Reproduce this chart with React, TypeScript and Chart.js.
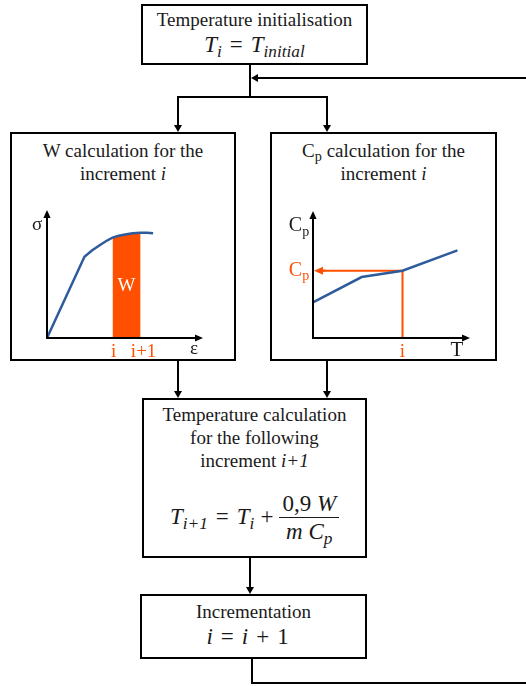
import React, { useEffect, useRef } from "react";
import { Chart, registerables } from "chart.js";

Chart.register(...registerables);

const BLUE = "#2E5B9B";
const ORANGE = "#FF5000";
const INK = "#1a1a1a";
const SERIF = '"Liberation Serif", "DejaVu Serif", serif';

// Stress–strain curve (arbitrary units 0..100)
const strain = [0, 24, 29, 34, 38, 42, 46, 51, 55, 60, 64, 68];
const stress = [0, 63.5, 68.5, 72.7, 75.8, 78.4, 79.9, 81, 81.8, 82.3, 82.3, 81.8];
const incStart = 42;
const incEnd = 60;
const strainTickLabels = ["i", "i+1"];

// Cp–T curve (arbitrary units 0..100)
const temperature = [0, 31, 57, 92];
const heatCapacity = [28, 48, 53, 69];
const tempIncrement = 57;
const tempTickLabel = "i";

function drawArrow(
  ctx: CanvasRenderingContext2D,
  x1: number, y1: number, x2: number, y2: number,
  color: string, lw: number, head: number
) {
  const a = Math.atan2(y2 - y1, x2 - x1);
  ctx.save();
  ctx.strokeStyle = color;
  ctx.fillStyle = color;
  ctx.lineWidth = lw;
  ctx.beginPath();
  ctx.moveTo(x1, y1);
  ctx.lineTo(x2 - Math.cos(a) * head * 0.7, y2 - Math.sin(a) * head * 0.7);
  ctx.stroke();
  const w = head * 0.45;
  ctx.beginPath();
  ctx.moveTo(x2, y2);
  ctx.lineTo(x2 - Math.cos(a) * head - Math.sin(a) * w, y2 - Math.sin(a) * head + Math.cos(a) * w);
  ctx.lineTo(x2 - Math.cos(a) * head + Math.sin(a) * w, y2 - Math.sin(a) * head - Math.cos(a) * w);
  ctx.closePath();
  ctx.fill();
  ctx.restore();
}

function text(ctx: CanvasRenderingContext2D, s: string, x: number, y: number, color: string, size: number, sub?: string) {
  ctx.save();
  ctx.fillStyle = color;
  ctx.textBaseline = "middle";
  ctx.font = `${size}px ${SERIF}`;
  if (sub) {
    const w1 = ctx.measureText(s).width;
    ctx.font = `${size * 0.7}px ${SERIF}`;
    const w2 = ctx.measureText(sub).width;
    const x0 = x - (w1 + w2) / 2;
    ctx.textAlign = "left";
    ctx.font = `${size}px ${SERIF}`;
    ctx.fillText(s, x0, y);
    ctx.font = `${size * 0.7}px ${SERIF}`;
    ctx.fillText(sub, x0 + w1, y + size * 0.3);
  } else {
    ctx.textAlign = "center";
    ctx.fillText(s, x, y);
  }
  ctx.restore();
}

const hiddenScales = {
  x: { type: "linear" as const, min: 0, max: 100, display: false },
  y: { type: "linear" as const, min: 0, max: 100, display: false },
};

function StressChart() {
  const ref = useRef<HTMLCanvasElement | null>(null);
  useEffect(() => {
    if (!ref.current) return;
    const curve = strain.map((x, i) => ({ x, y: stress[i] }));
    const area = curve.filter((p) => p.x >= incStart && p.x <= incEnd);
    const midY = area[Math.floor(area.length / 2)].y / 2;
    const chart = new Chart(ref.current, {
      type: "line",
      data: {
        datasets: [
          { data: curve, borderColor: BLUE, borderWidth: 2.5, pointRadius: 0, tension: 0, order: 0, clip: false } as any,
          { data: area, borderWidth: 0, borderColor: "rgba(0,0,0,0)", backgroundColor: ORANGE, fill: "origin", pointRadius: 0, order: 1, clip: false } as any,
        ],
      },
      options: {
        animation: false,
        responsive: false,
        devicePixelRatio: 1,
        layout: { padding: { left: 27, right: 12, top: 15, bottom: 22 } },
        scales: hiddenScales,
        plugins: { legend: { display: false }, tooltip: { enabled: false } },
      },
      plugins: [
        {
          id: "axes1",
          afterDatasetsDraw(c: any) {
            const ctx = c.ctx as CanvasRenderingContext2D;
            const { left, right, top, bottom } = c.chartArea;
            const xs = c.scales.x, ys = c.scales.y;
            const x0 = xs.getPixelForValue(0), y0 = ys.getPixelForValue(0);
            drawArrow(ctx, x0 - 1, y0, right, y0, "#000", 2, 8);
            drawArrow(ctx, x0, y0 + 1, x0, top, "#000", 2, 8);
            text(ctx, "σ", left - 10, top + 15, INK, 19);
            text(ctx, "ε", right - 9, bottom + 11, INK, 19);
            text(ctx, strainTickLabels[0], xs.getPixelForValue(incStart) + 1, bottom + 14, ORANGE, 19);
            text(ctx, strainTickLabels[1], xs.getPixelForValue(incEnd) + 3, bottom + 14, ORANGE, 19);
            text(ctx, "W", xs.getPixelForValue((incStart + incEnd) / 2), ys.getPixelForValue(midY), "#ffffff", 19);
          },
        },
      ],
    });
    return () => chart.destroy();
  }, []);
  return <canvas ref={ref} width={195} height={165} style={{ position: "absolute", left: 20, top: 195, width: 195, height: 165 }} />;
}

function CpChart() {
  const ref = useRef<HTMLCanvasElement | null>(null);
  useEffect(() => {
    if (!ref.current) return;
    const curve = temperature.map((x, i) => ({ x, y: heatCapacity[i] }));
    const cpAtI = heatCapacity[temperature.indexOf(tempIncrement)];
    const chart = new Chart(ref.current, {
      type: "line",
      data: {
        datasets: [
          { data: curve, borderColor: BLUE, borderWidth: 2.5, pointRadius: 0, tension: 0, order: 0, clip: false } as any,
          {
            data: [{ x: tempIncrement, y: 0 }, { x: tempIncrement, y: cpAtI }, { x: 4, y: cpAtI }],
            borderColor: ORANGE, borderWidth: 2, pointRadius: 0, tension: 0, order: 1, clip: false,
          } as any,
        ],
      },
      options: {
        animation: false,
        responsive: false,
        devicePixelRatio: 1,
        layout: { padding: { left: 33, right: 20, top: 16, bottom: 22 } },
        scales: hiddenScales,
        plugins: { legend: { display: false }, tooltip: { enabled: false } },
      },
      plugins: [
        {
          id: "axes2",
          afterDatasetsDraw(c: any) {
            const ctx = c.ctx as CanvasRenderingContext2D;
            const { left, right, top, bottom } = c.chartArea;
            const xs = c.scales.x, ys = c.scales.y;
            const x0 = xs.getPixelForValue(0), y0 = ys.getPixelForValue(0);
            const yc = ys.getPixelForValue(cpAtI);
            drawArrow(ctx, xs.getPixelForValue(8), yc, x0 + 1, yc, ORANGE, 2, 9);
            drawArrow(ctx, x0 - 1, y0, right, y0, "#000", 2, 8);
            drawArrow(ctx, x0, y0 + 1, x0, top, "#000", 2, 8);
            text(ctx, "C", left - 14, top + 15, INK, 20, "p");
            text(ctx, "C", left - 14, yc, ORANGE, 20, "p");
            text(ctx, tempTickLabel, xs.getPixelForValue(tempIncrement), bottom + 14, ORANGE, 19);
            text(ctx, "T", right - 13, bottom + 12, INK, 21);
          },
        },
      ],
    });
    return () => chart.destroy();
  }, []);
  return <canvas ref={ref} width={210} height={165} style={{ position: "absolute", left: 280, top: 195, width: 210, height: 165 }} />;
}

const subStyle: React.CSSProperties = { fontSize: "0.75em", verticalAlign: "-0.3em", lineHeight: 0 };

function Box({ x, y, w, h }: { x: number; y: number; w: number; h: number }) {
  return (
    <div style={{ position: "absolute", left: x, top: y, width: w, height: h, border: "2px solid #000", boxSizing: "border-box", background: "#fff" }} />
  );
}

function Txt({ x, w, cy, size, children, style }: { x: number; w: number; cy: number; size: number; children: any; style?: React.CSSProperties }) {
  const lh = Math.round(size * 1.3);
  return (
    <div
      style={{
        position: "absolute", left: x, width: w, top: cy - lh / 2, height: lh, lineHeight: `${lh}px`,
        fontSize: size, textAlign: "center", whiteSpace: "nowrap", color: INK, ...style,
      }}
    >
      {children}
    </div>
  );
}

function Connectors() {
  const lw = 2;
  const ah = (x: number, y: number, dir: "down" | "left") =>
    dir === "down"
      ? `${x},${y} ${x - 4},${y - 7} ${x + 4},${y - 7}`
      : `${x},${y} ${x + 7},${y - 4} ${x + 7},${y + 4}`;
  return (
    <svg width={526} height={686} style={{ position: "absolute", left: 0, top: 0, pointerEvents: "none" }}>
      <g stroke="#000" strokeWidth={lw} fill="none">
        <line x1={250} y1={65} x2={250} y2={97} />
        <line x1={177} y1={97} x2={328} y2={97} />
        <line x1={178} y1={97} x2={178} y2={126} />
        <line x1={327} y1={97} x2={327} y2={126} />
        <line x1={178} y1={361} x2={178} y2={392} />
        <line x1={327} y1={361} x2={327} y2={392} />
        <line x1={250} y1={558} x2={250} y2={588} />
        <line x1={252} y1={659} x2={252} y2={683} />
        <line x1={251} y1={683} x2={526} y2={683} />
        <line x1={256} y1={78} x2={526} y2={78} />
      </g>
      <g fill="#000">
        <polygon points={ah(178, 132, "down")} />
        <polygon points={ah(327, 132, "down")} />
        <polygon points={ah(178, 398, "down")} />
        <polygon points={ah(327, 398, "down")} />
        <polygon points={ah(250, 594, "down")} />
        <polygon points={ah(251, 78, "left")} />
      </g>
    </svg>
  );
}

export default function App() {
  const title = 19;
  const math = 23;
  return (
    <div style={{ position: "absolute", left: 0, top: 0, width: 526, height: 686, background: "#fff", fontFamily: SERIF, overflow: "hidden" }}>
      <Box x={141} y={4} w={227} h={61} />
      <Box x={10} y={132} w={226} h={229} />
      <Box x={270} y={132} w={227} h={229} />
      <Box x={142} y={398} w={225} h={160} />
      <Box x={140} y={594} w={227} h={65} />
      <Connectors />

      <Txt x={141} w={227} cy={19} size={title}>Temperature initialisation</Txt>
      <Txt x={141} w={227} cy={45} size={math} style={{ fontStyle: "italic" }}>
        T<span style={subStyle}>i</span>
        <span style={{ fontStyle: "normal", margin: "0 8px" }}>=</span>
        T<span style={subStyle}>initial</span>
      </Txt>

      <Txt x={10} w={226} cy={150} size={title}>W calculation for the</Txt>
      <Txt x={10} w={226} cy={173} size={title}>increment <i>i</i></Txt>

      <Txt x={270} w={227} cy={150} size={title}>
        C<span style={subStyle}>p</span> calculation for the
      </Txt>
      <Txt x={270} w={227} cy={173} size={title}>increment <i>i</i></Txt>

      <Txt x={142} w={225} cy={414} size={title}>Temperature calculation</Txt>
      <Txt x={142} w={225} cy={437} size={title}>for the following</Txt>
      <Txt x={142} w={225} cy={460} size={title}>increment <i>i+1</i></Txt>

      <div
        style={{
          position: "absolute", left: 142, width: 225, top: 487, height: 60, display: "flex",
          alignItems: "center", justifyContent: "center", fontSize: math, fontStyle: "italic", color: INK, whiteSpace: "nowrap",
        }}
      >
        <span>T<span style={subStyle}>i+1</span></span>
        <span style={{ fontStyle: "normal", margin: "0 8px" }}>=</span>
        <span>T<span style={subStyle}>i</span></span>
        <span style={{ fontStyle: "normal", margin: "0 6px" }}>+</span>
        <span style={{ display: "inline-flex", flexDirection: "column", alignItems: "center", lineHeight: "27px" }}>
          <span style={{ padding: "0 3px", borderBottom: `1.5px solid ${INK}` }}>
            <span style={{ fontStyle: "normal" }}>0,9</span> W
          </span>
          <span>m C<span style={subStyle}>p</span></span>
        </span>
      </div>

      <Txt x={140} w={227} cy={611} size={title}>Incrementation</Txt>
      <Txt x={134} w={227} cy={637} size={math} style={{ fontStyle: "italic" }}>
        i<span style={{ fontStyle: "normal", margin: "0 8px" }}>=</span>i<span style={{ fontStyle: "normal", margin: "0 8px" }}>+</span><span style={{ fontStyle: "normal" }}>1</span>
      </Txt>

      <StressChart />
      <CpChart />
    </div>
  );
}
